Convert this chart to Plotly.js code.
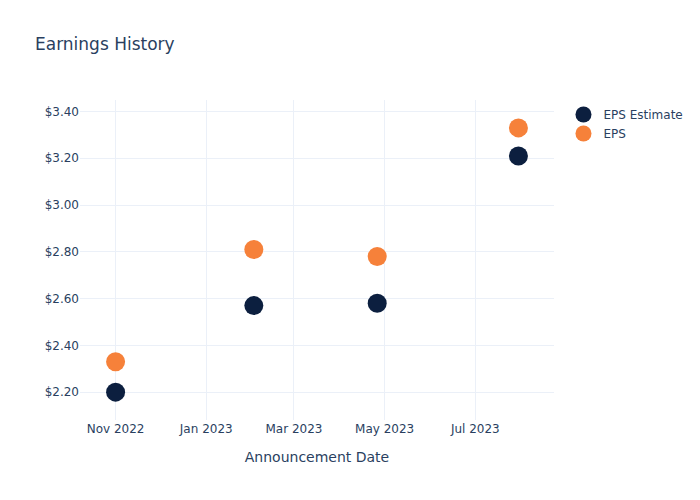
<!DOCTYPE html>
<html>
<head>
<meta charset="utf-8">
<script src="https://cdn.plot.ly/plotly-3.0.1.min.js"></script>
<style>html,body{margin:0;padding:0;}</style>
</head>
<body>
<div id="chart" style="width:700px;height:500px;"></div>
<script>
const dates = ["2022-11-01", "2023-02-02", "2023-04-26", "2023-07-30"];
const epsEstimate = [2.20, 2.57, 2.58, 3.21];
const epsActual = [2.33, 2.81, 2.78, 3.33];

const traces = [
  {
    x: dates, y: epsEstimate, name: "EPS Estimate", type: "scatter", mode: "markers",
    marker: {color: "#0c1f3f", size: 19}
  },
  {
    x: dates, y: epsActual, name: "EPS", type: "scatter", mode: "markers",
    marker: {color: "#f6813a", size: 19}
  }
];

const layout = {
  template: "plotly_white",
  width: 700, height: 500,
  title: {text: "Earnings History", x: 0.05, xanchor: "left", font: {size: 17}},
  font: {color: "#2a3f5f", family: "DejaVu Sans, Verdana, sans-serif", size: 12},
  paper_bgcolor: "white",
  plot_bgcolor: "white",
  xaxis: {
    title: {text: "Announcement Date", standoff: 17, font: {size: 14}},
    type: "date",
    gridcolor: "#EBF0F8",
    zeroline: false,
    tickformat: "%b %Y",
    tickfont: {size: 12}
  },
  yaxis: {
    tickprefix: "$",
    tickformat: ".2f",
    gridcolor: "#EBF0F8",
    zeroline: false,
    tickfont: {size: 12}
  },
  legend: {font: {size: 12}},
  showlegend: true
};

Plotly.newPlot("chart", traces, layout, {displayModeBar: false});
</script>
</body>
</html>
